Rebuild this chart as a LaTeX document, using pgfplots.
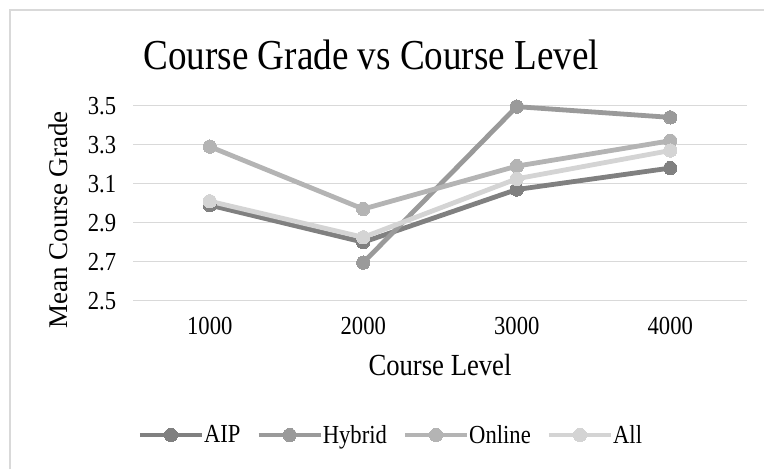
\documentclass[border=0pt]{standalone}
\usepackage{pgfplots}
\pgfplotsset{compat=1.18}
\usepackage{fontspec}
\setmainfont{Liberation Serif}
\definecolor{cAIP}{HTML}{808080}
\definecolor{cHyb}{HTML}{9A9A9A}
\definecolor{cOnl}{HTML}{B4B4B4}
\definecolor{cAll}{HTML}{D4D4D4}
\definecolor{gridc}{HTML}{D9D9D9}
\begin{document}
\begin{tikzpicture}
\path[use as bounding box] (0,0) rectangle (573pt,-351.75pt);
\draw[gridc, line width=1.1pt] (7.5pt,-351.75pt) -- (7.5pt,-7.5pt) -- (573pt,-7.5pt);
\begin{axis}[
  at={(99.75pt,-225.5pt)}, anchor=south west,
  scale only axis, width=460.5pt, height=146.25pt,
  xmin=0.5, xmax=4.5, ymin=2.5, ymax=3.5,
  xtick={1,2,3,4}, xticklabels={1000,2000,3000,4000},
  ytick={2.5,2.7,2.9,3.1,3.3,3.5},
  yticklabel style={/pgf/number format/fixed, /pgf/number format/fixed zerofill, /pgf/number format/precision=1, xshift=-11pt},
  /pgf/number format/assume math mode=true,
  xticklabel style={yshift=-9pt},
  ticklabel style={font=\fontsize{19.5}{22}\selectfont, xscale=0.87},
  major tick length=0pt,
  axis line style={draw=none},
  ymajorgrids, xmajorgrids=false, grid style={gridc, line width=1.1pt},
  title={Course Grade vs Course Level},
  title style={font=\fontsize{32}{36}\selectfont, xscale=0.87, at={(axis description cs:0.388,1.22)}, anchor=center},
  xlabel={Course Level},
  xlabel style={font=\fontsize{23}{26}\selectfont, xscale=0.87, at={(axis description cs:0.5,-0.33)}, anchor=center},
  ylabel={Mean Course Grade},
  ylabel style={font=\fontsize{20.25}{24}\selectfont, at={(axis description cs:-0.122,0.414)}, anchor=center, rotate=0},
  legend columns=4,
  legend style={at={(axis description cs:0.42,-0.689)}, anchor=center, draw=none, fill=none,
    font=\fontsize{19.5}{22}\selectfont,
    /tikz/every even column/.append style={column sep=10pt},
    /tikz/every odd column/.append style={column sep=-2pt},
    nodes={inner sep=2pt, xscale=0.87}},
  legend image code/.code={\draw[mark repeat=2,mark phase=2] plot coordinates {(0cm,0cm) (0.82cm,0cm) (1.64cm,0cm)};},
  every axis plot/.append style={line width=3.6pt, mark=*, mark size=5pt},
  clip=false,
]
\addplot[color=cAIP, mark options={fill=cAIP, draw=cAIP, line width=0pt}] coordinates {(1,2.99) (2,2.80) (3,3.07) (4,3.18)};
\addlegendentry{AIP}
\addplot[color=cHyb, mark options={fill=cHyb, draw=cHyb, line width=0pt}] coordinates {(2,2.695) (3,3.495) (4,3.44)};
\addlegendentry{Hybrid}
\addplot[color=cOnl, mark options={fill=cOnl, draw=cOnl, line width=0pt}] coordinates {(1,3.29) (2,2.97) (3,3.19) (4,3.32)};
\addlegendentry{Online}
\addplot[color=cAll, mark options={fill=cAll, draw=cAll, line width=0pt}] coordinates {(1,3.01) (2,2.825) (3,3.125) (4,3.27)};
\addlegendentry{All}
\end{axis}
\end{tikzpicture}
\end{document}
